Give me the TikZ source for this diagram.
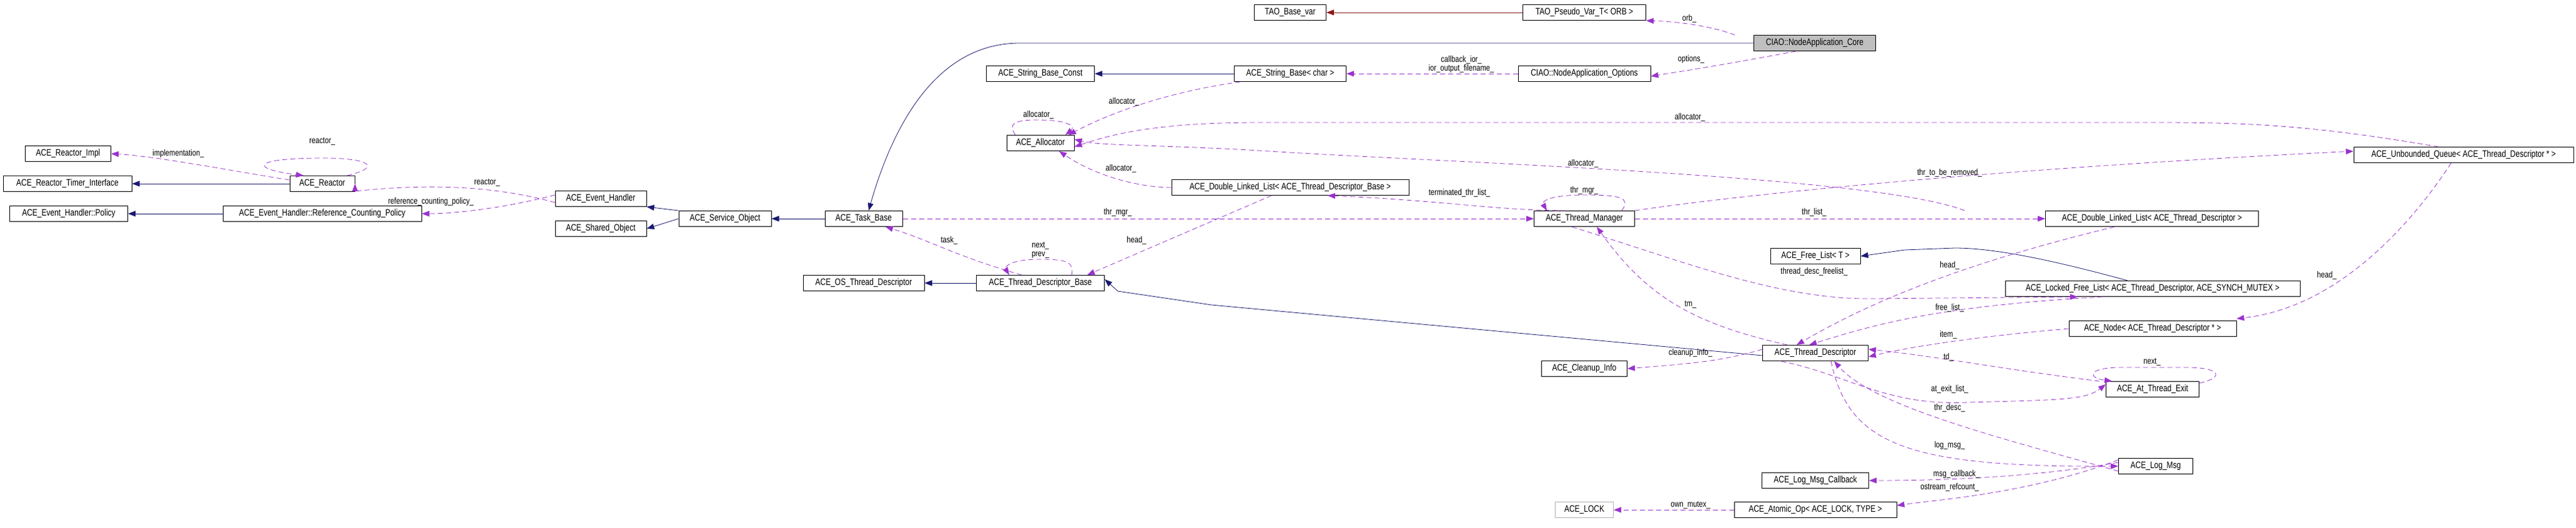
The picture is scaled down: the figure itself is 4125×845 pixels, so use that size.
\documentclass[tikz,border=0pt]{standalone}
\usepackage{fontspec}
\setmainfont{Liberation Sans}[FakeStretch=0.8]
\usetikzlibrary{arrows.meta}
\definecolor{inh}{HTML}{191970}
\definecolor{dep}{HTML}{9A32CD}
\definecolor{tao}{HTML}{8B1A1A}
\begin{document}
\begin{tikzpicture}[x=1pt,y=-1pt,
  cls/.style={draw=black,line width=1pt,minimum height=25,inner sep=0pt,font=\fontsize{15}{15}\selectfont,fill=white},
  wd/.style={minimum width=#1},
  lbl/.style={font=\fontsize{14}{14}\selectfont,inner sep=0pt,align=center},
  inhl/.style={draw=inh,line width=0.8pt,-{Triangle[length=12pt,width=9pt]}},
  taol/.style={draw=tao,line width=0.8pt,-{Triangle[length=12pt,width=9pt]}},
  depl/.style={draw=dep,line width=0.8pt,dash pattern=on 8pt off 5pt,-{Triangle[length=12pt,width=9pt]}}]
\useasboundingbox (0,0) rectangle (4125,845);
% nodes
\node[cls,wd=137] (impl) at (109,246) {ACE\_Reactor\_Impl};
\node[cls,wd=206] (timer) at (108,294) {ACE\_Reactor\_Timer\_Interface};
\node[cls,wd=189] (policy) at (110,342) {ACE\_Event\_Handler::Policy};
\node[cls,wd=104] (reactor) at (516,294) {ACE\_Reactor};
\node[cls,wd=318] (rcp) at (516,342) {ACE\_Event\_Handler::Reference\_Counting\_Policy};
\node[cls,wd=146] (eh) at (962,318) {ACE\_Event\_Handler};
\node[cls,wd=146] (so) at (962,366) {ACE\_Shared\_Object};
\node[cls,wd=148] (svc) at (1161,350) {ACE\_Service\_Object};
\node[cls,wd=124] (task) at (1383,350) {ACE\_Task\_Base};
\node[cls,wd=173] (sbc) at (1666,118) {ACE\_String\_Base\_Const};
\node[cls,wd=108] (alloc) at (1666,229) {ACE\_Allocator};
\node[cls,wd=194] (ostd) at (1383,453) {ACE\_OS\_Thread\_Descriptor};
\node[cls,wd=205] (tdb) at (1666,453) {ACE\_Thread\_Descriptor\_Base};
\node[cls,wd=115] (tbv) at (2066,20) {TAO\_Base\_var};
\node[cls,wd=197] (pvt) at (2537,20) {TAO\_Pseudo\_Var\_T< ORB >};
\node[cls,wd=195,fill=black!25] (core) at (2906,69) {CIAO::NodeApplication\_Core};
\node[cls,wd=179] (sbchar) at (2066,118) {ACE\_String\_Base< char >};
\node[cls,wd=212] (opts) at (2537,118) {CIAO::NodeApplication\_Options};
\node[cls,wd=380] (dllb) at (2066,300) {ACE\_Double\_Linked\_List< ACE\_Thread\_Descriptor\_Base >};
\node[cls,wd=161] (tm) at (2537,350) {ACE\_Thread\_Manager};
\node[cls,wd=144] (fl) at (2907,410) {ACE\_Free\_List< T >};
\node[cls,wd=352] (uq) at (3945,248) {ACE\_Unbounded\_Queue< ACE\_Thread\_Descriptor * >};
\node[cls,wd=341] (dlltd) at (3446,350) {ACE\_Double\_Linked\_List< ACE\_Thread\_Descriptor >};
\node[cls,wd=472] (lfl) at (3447,462) {ACE\_Locked\_Free\_List< ACE\_Thread\_Descriptor, ACE\_SYNCH\_MUTEX >};
\node[cls,wd=169] (td) at (2907,565) {ACE\_Thread\_Descriptor};
\node[cls,wd=137] (ci) at (2537,590) {ACE\_Cleanup\_Info};
\node[cls,wd=268] (anode) at (3447,526) {ACE\_Node< ACE\_Thread\_Descriptor * >};
\node[cls,wd=149] (ate) at (3447,623) {ACE\_At\_Thread\_Exit};
\node[cls,wd=119] (lm) at (3452,746) {ACE\_Log\_Msg};
\node[cls,wd=171] (lmc) at (2907,769) {ACE\_Log\_Msg\_Callback};
\node[cls,wd=260] (aop) at (2907,816) {ACE\_Atomic\_Op< ACE\_LOCK, TYPE >};
\node[cls,wd=93,draw=black!30] (lock) at (2537,816) {ACE\_LOCK};
% inheritance
\draw[inhl] (reactor) -- (timer);
\draw[inhl] (rcp) -- (policy);
\draw[inhl] (svc.north west) -- (eh.south east);
\draw[inhl] (svc.west) -- (so.east);
\draw[inhl] (svc.east -| task.west) -- (svc.east);
\draw[inhl] (core.west) -- (1633,69) .. controls (1500,69) and (1430,200) .. ([xshift=8]task.north);
\draw[inhl] (sbchar) -- (sbc);
\draw[inhl] (tdb) -- (ostd);
\draw[inhl] ([yshift=-4]td.west) -- (1940,488) -- (1790,466) -- ([yshift=6]tdb.east);
\draw[inhl] ([xshift=-40]lfl.north) .. controls (3300,420) and (3200,397) .. (3130,397) -- (3050,400) -- (fl.east);
\draw[taol] (pvt) -- (tbv);
% dependencies
\draw[depl] ([yshift=6]reactor.west) .. controls (380,275) and (250,250) .. (impl.east) node[lbl,pos=0.6,above=6pt] (limpl) {implementation\_};
\draw[depl] ([xshift=40]reactor.north) .. controls (620,265) and (580,253) .. (520,253) .. controls (400,253) and (400,270) .. ([xshift=-30]reactor.north);
\node[lbl] (lreac1) at (516,226) {reactor\_};
\draw[depl] ([yshift=-6]eh.west) .. controls (800,300) and (700,292) .. ([yshift=-6]reactor.east |- 300,300) -- ([yshift=0]reactor.east);
\node[lbl] (lreac2) at (780,292) {reactor\_};
\draw[depl] ([yshift=6]eh.west) .. controls (800,335) and (720,342) .. (rcp.east);
\node[lbl] (lrcp) at (690,323) {reference\_counting\_policy\_};
\draw[depl] ([xshift=-30]core.north west) .. controls (2750,45) and (2700,35) .. (pvt.south east);
\node[lbl] (lorb) at (2705,30) {orb\_};
\draw[depl] ([xshift=-30]core.south) .. controls (2780,100) and (2720,110) .. ([yshift=-4]opts.east);
\node[lbl] (lopts) at (2708,95) {options\_};
\draw[depl] (opts) -- (sbchar);
\node[lbl] (lcb) at (2340,103) {callback\_ior\_\\ior\_output\_filename\_};
\draw[depl] ([xshift=-80]sbchar.south) .. controls (1850,150) and (1760,190) .. ([xshift=45]alloc.north);
\node[lbl] (la1) at (1800,163) {allocator\_};
\draw[depl] ([xshift=-40]alloc.north) .. controls (1615,200) and (1620,192) .. (1660,192) .. controls (1720,192) and (1720,205) .. ([xshift=40]alloc.north);
\node[lbl] (la2) at (1663,184) {allocator\_};
\draw[depl] ([xshift=-40]uq.north) .. controls (3700,200) and (3600,196) .. (3450,196) -- (2020,196) .. controls (1850,196) and (1780,215) .. ([yshift=-6]alloc.east);
\node[lbl] (la3) at (2706,188) {allocator\_};
\draw[depl] ([xshift=-300]dlltd.north) .. controls (3000,280) and (2300,260) .. (2000,240) .. controls (1850,232) and (1760,233) .. ([yshift=6]alloc.east);
\node[lbl] (la4) at (2535,262) {allocator\_};
\draw[depl] (dllb.west) .. controls (1830,300) and (1760,285) .. ([xshift=30]alloc.south);
\node[lbl] (la5) at (1795,270) {allocator\_};
\draw[depl] (task) -- (tm);
\node[lbl] (lthm) at (1790,340) {thr\_mgr\_};
\draw[depl] ([xshift=-30]tm.north) .. controls (2400,337) and (2300,320) .. ([xshift=60]dllb.south);
\node[lbl] (lterm) at (2337,309) {terminated\_thr\_list\_};
\draw[depl] ([xshift=60]tm.north) .. controls (2610,318) and (2600,312) .. (2540,312) .. controls (2470,312) and (2470,325) .. ([xshift=-60]tm.north);
\node[lbl] (lthm2) at (2537,305) {thr\_mgr\_};
\draw[depl] (tm.north east) .. controls (2800,310) and (3200,270) .. ([yshift=6]uq.west);
\node[lbl] (lrem) at (3122,277) {thr\_to\_be\_removed\_};
\draw[depl] (tm) -- (dlltd);
\node[lbl] (lthl) at (2905,340) {thr\_list\_};
\draw[depl] ([xshift=-20]tm.south) .. controls (2700,420) and (2850,480) .. (3000,478) -- ([xshift=-120]lfl.south);
\node[lbl] (lfree) at (2905,435) {thread\_desc\_freelist\_};
\draw[depl] ([xshift=-45]td.north) .. controls (2720,520) and (2640,480) .. ([xshift=20]tm.south);
\node[lbl] (ltm) at (2707,487) {tm\_};
\draw[depl] ([xshift=-30]tdb.north) .. controls (1530,410) and (1490,385) .. ([xshift=35]task.south);
\node[lbl] (ltask) at (1520,385) {task\_};
\draw[depl] ([xshift=50]tdb.north) .. controls (1720,420) and (1710,415) .. (1666,415) .. controls (1610,415) and (1610,430) .. ([xshift=-50]tdb.north);
\node[lbl] (lnp) at (1666,400) {next\_\\prev\_};
\draw[depl] ([xshift=-30]dllb.south) -- ([xshift=75]tdb.north);
\node[lbl] (lhead1) at (1820,385) {head\_};
\draw[depl] ([xshift=-60]dlltd.south) .. controls (3150,420) and (3000,480) .. ([xshift=-30]td.north);
\node[lbl] (lhead2) at (3122,425) {head\_};
\draw[depl] ([xshift=-20]uq.south) .. controls (3880,330) and (3760,490) .. ([yshift=3]anode.north east);
\node[lbl] (lhead3) at (3726,441) {head\_};
\draw[depl] ([xshift=-80]lfl.south) .. controls (3100,490) and (3000,520) .. ([xshift=-10]td.north);
\node[lbl] (lfl2) at (3122,493) {free\_list\_};
\draw[depl] (anode.west) .. controls (3150,540) and (3050,557) .. ([yshift=-6]td.east);
\node[lbl] (litem) at (3120,536) {item\_};
\draw[depl] ([xshift=-10]ate.north west) .. controls (3200,590) and (3100,570) .. ([yshift=6]td.east);
\node[lbl] (ltd) at (3120,572) {td\_};
\draw[depl] ([xshift=30]td.south west) .. controls (2960,600) and (3020,650) .. (3150,644) .. controls (3300,640) and (3340,640) .. ([yshift=8]ate.west);
\node[lbl] (lael) at (3122,623) {at\_exit\_list\_};
\draw[depl] ([yshift=-3]ate.north east) .. controls (3560,605) and (3560,588) .. (3500,588) -- (3390,588) .. controls (3340,590) and (3345,605) .. ([xshift=10]ate.north west);
\node[lbl] (lnext) at (3446,579) {next\_};
\draw[depl] ([yshift=-8]lm.west) .. controls (3200,700) and (3000,650) .. ([xshift=-55]td.south east);
\node[lbl] (lthd) at (3122,653) {thr\_desc\_};
\draw[depl] ([xshift=-60]td.south east) .. controls (2960,710) and (3050,748) .. (lm.west);
\node[lbl] (llm) at (3122,713) {log\_msg\_};
\draw[depl] ([yshift=6]lm.west) .. controls (3250,765) and (3100,769) .. (lmc.east);
\node[lbl] (lmcb) at (3133,759) {msg\_callback\_};
\draw[depl] ([yshift=10]lm.west) .. controls (3250,790) and (3100,800) .. ([yshift=-6]aop.north east);
\node[lbl] (lrc) at (3122,780) {ostream\_refcount\_};
\draw[depl] (aop) -- (lock);
\node[lbl] (lmut) at (2707,808) {own\_mutex\_};
\draw[depl] ([yshift=6]td.west) .. controls (2750,580) and (2700,582) .. (ci.east);
\node[lbl] (lci) at (2707,565) {cleanup\_info\_};
\end{tikzpicture}
\end{document}
